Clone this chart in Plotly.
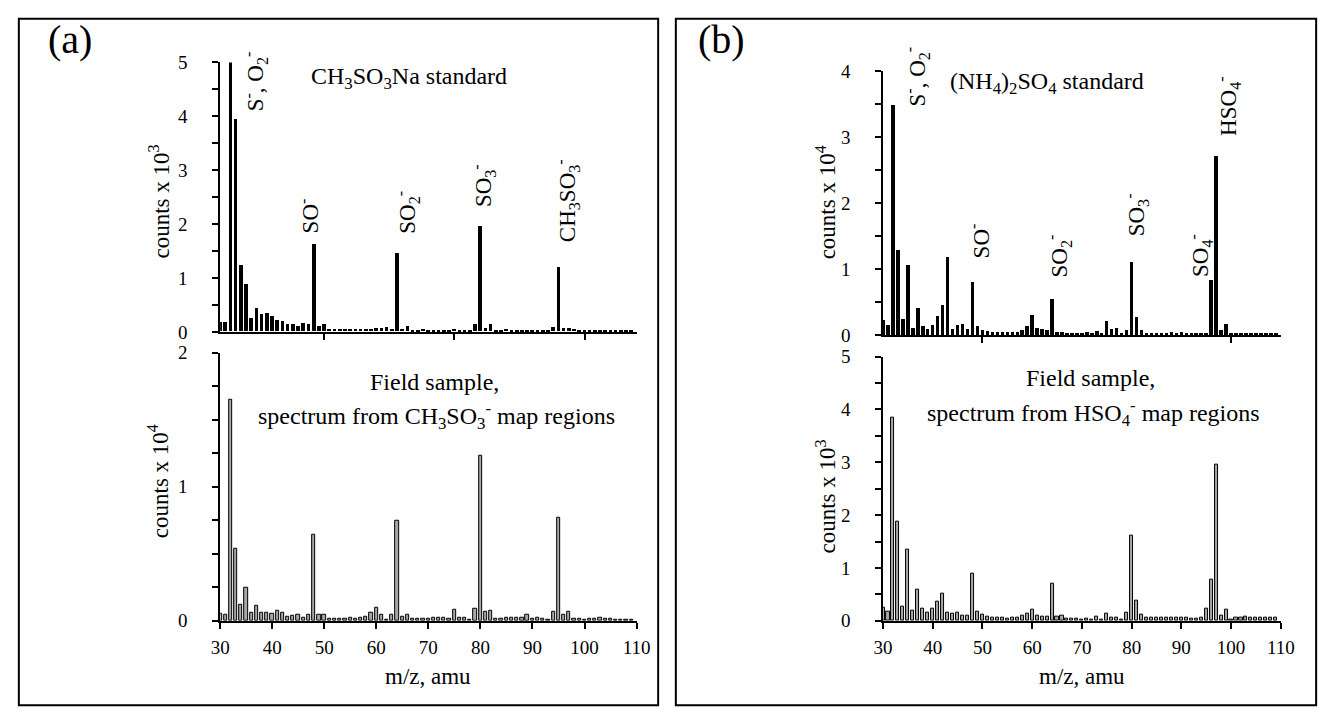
import plotly.graph_objects as go

# ---------------- data ----------------
mz = list(range(30, 110))

# (a) CH3SO3Na standard, counts x 10^3
a_standard = [
    0.18, 0.18, 5.00, 3.94, 1.24, 0.88, 0.25, 0.44, 0.32, 0.34,
    0.28, 0.21, 0.20, 0.14, 0.14, 0.11, 0.15, 0.13, 1.62, 0.10,
    0.13, 0.05, 0.05, 0.05, 0.04, 0.05, 0.05, 0.05, 0.05, 0.04,
    0.07, 0.07, 0.08, 0.05, 1.45, 0.05, 0.10, 0.03, 0.03, 0.04,
    0.03, 0.03, 0.03, 0.03, 0.02, 0.05, 0.03, 0.03, 0.03, 0.13,
    1.96, 0.07, 0.13, 0.03, 0.03, 0.04, 0.03, 0.03, 0.03, 0.03,
    0.03, 0.03, 0.03, 0.03, 0.08, 1.20, 0.07, 0.07, 0.04, 0.02,
    0.02, 0.02, 0.03, 0.02, 0.02, 0.02, 0.02, 0.02, 0.02, 0.02,
]

# (a) field sample, CH3SO3- map regions, counts x 10^4
a_field = [
    0.053, 0.046, 1.65, 0.54, 0.12, 0.25, 0.056, 0.11, 0.06, 0.063,
    0.050, 0.077, 0.056, 0.031, 0.036, 0.048, 0.022, 0.048, 0.64, 0.046,
    0.046, 0.015, 0.015, 0.015, 0.015, 0.022, 0.018, 0.022, 0.029, 0.060,
    0.094, 0.046, 0.010, 0.046, 0.745, 0.029, 0.046, 0.012, 0.012, 0.017,
    0.017, 0.022, 0.020, 0.022, 0.015, 0.082, 0.020, 0.020, 0.008, 0.087,
    1.23, 0.065, 0.077, 0.017, 0.017, 0.020, 0.020, 0.020, 0.020, 0.044,
    0.015, 0.022, 0.012, 0.010, 0.065, 0.77, 0.048, 0.070, 0.015, 0.015,
    0.010, 0.015, 0.012, 0.022, 0.015, 0.015, 0.008, 0.008, 0.006, 0.006,
]

# (b) (NH4)2SO4 standard, counts x 10^4
b_standard = [
    0.23, 0.15, 3.48, 1.29, 0.245, 1.055, 0.11, 0.41, 0.14, 0.10,
    0.16, 0.29, 0.45, 1.19, 0.10, 0.16, 0.17, 0.09, 0.81, 0.14,
    0.085, 0.06, 0.045, 0.04, 0.04, 0.04, 0.04, 0.05, 0.08, 0.14,
    0.31, 0.11, 0.09, 0.075, 0.54, 0.045, 0.045, 0.03, 0.025, 0.03,
    0.03, 0.045, 0.03, 0.06, 0.035, 0.215, 0.10, 0.11, 0.025, 0.075,
    1.11, 0.27, 0.075, 0.03, 0.03, 0.035, 0.035, 0.025, 0.04, 0.025,
    0.04, 0.025, 0.025, 0.025, 0.025, 0.025, 0.84, 2.72, 0.085, 0.17,
    0.03, 0.03, 0.035, 0.03, 0.03, 0.03, 0.035, 0.03, 0.035, 0.03,
]

# (b) field sample, HSO4- map regions, counts x 10^3
b_field = [
    0.25, 0.165, 3.85, 1.87, 0.27, 1.35, 0.20, 0.58, 0.23, 0.15,
    0.23, 0.36, 0.51, 0.15, 0.14, 0.16, 0.09, 0.10, 0.89, 0.18,
    0.12, 0.07, 0.06, 0.05, 0.05, 0.04, 0.05, 0.06, 0.09, 0.14,
    0.21, 0.10, 0.07, 0.07, 0.70, 0.08, 0.10, 0.04, 0.04, 0.04,
    0.03, 0.04, 0.03, 0.07, 0.03, 0.14, 0.06, 0.06, 0.03, 0.15,
    1.61, 0.38, 0.12, 0.05, 0.05, 0.05, 0.05, 0.06, 0.05, 0.05,
    0.05, 0.05, 0.04, 0.04, 0.05, 0.23, 0.77, 2.95, 0.10, 0.21,
    0.03, 0.06, 0.06, 0.07, 0.05, 0.06, 0.06, 0.06, 0.05, 0.05,
]

x_bottom_ticks = [30, 40, 50, 60, 70, 80, 90, 100, 110]
x_top_ticks_a = [50, 75, 100]
x_top_ticks_b = [50, 100]

# ---------------- layout helpers ----------------
W, H = 1338, 724
FONT = "Liberation Serif"


def fx(p):
    return p / W


def fy(p):
    return 1 - p / H


fig = go.Figure()

fig.add_trace(go.Bar(x=mz, y=a_standard, xaxis="x", yaxis="y", width=0.7,
                     marker=dict(color="black", line=dict(width=0))))
fig.add_trace(go.Bar(x=mz, y=a_field, xaxis="x2", yaxis="y2", width=0.62,
                     marker=dict(color="#a8a8a8", line=dict(color="black", width=1))))
fig.add_trace(go.Bar(x=mz, y=b_standard, xaxis="x3", yaxis="y3", width=0.7,
                     marker=dict(color="black", line=dict(width=0))))
fig.add_trace(go.Bar(x=mz, y=b_field, xaxis="x4", yaxis="y4", width=0.62,
                     marker=dict(color="#a8a8a8", line=dict(color="black", width=1))))

axis_common = dict(showline=True, linecolor="black", linewidth=1.5, ticks="outside",
                   ticklen=6, tickwidth=1.5, tickcolor="black", showgrid=False,
                   zeroline=False, tickfont=dict(family=FONT, size=19, color="black"))
minor_common = dict(ticks="outside", ticklen=6, tickwidth=1.5, tickcolor="black")

xa_dom = [fx(214), fx(638)]
xb_dom = [fx(889), fx(1294)]

layout = dict(
    width=W, height=H, autosize=False,
    margin=dict(l=0, r=0, t=0, b=0),
    paper_bgcolor="white", plot_bgcolor="rgba(0,0,0,0)",
    showlegend=False, bargap=0,
    font=dict(family=FONT, color="black"),
    # (a) top
    xaxis=dict(axis_common, domain=xa_dom, anchor="y", range=[30, 110],
               tickvals=x_top_ticks_a, showticklabels=False),
    yaxis=dict(axis_common, domain=[fy(331.5), fy(54)], anchor="x", range=[0, 5],
               dtick=1, tick0=0, ticklabelstandoff=21,
               minor=dict(minor_common, dtick=0.5)),
    # (a) bottom
    xaxis2=dict(axis_common, domain=xa_dom, anchor="y2", range=[30, 110],
                tickvals=x_bottom_ticks, ticklabelstandoff=3),
    yaxis2=dict(axis_common, domain=[fy(629), fy(353)], anchor="x2", range=[0, 2],
                dtick=1, tick0=0, ticklabelstandoff=21,
                minor=dict(minor_common, dtick=0.25)),
    # (b) top
    xaxis3=dict(axis_common, domain=xb_dom, anchor="y3", range=[30, 110],
                tickvals=x_top_ticks_b, showticklabels=False),
    yaxis3=dict(axis_common, domain=[fy(335), fy(63)], anchor="x3", range=[0, 4],
                dtick=1, tick0=0, ticklabelstandoff=21,
                minor=dict(minor_common, dtick=0.5)),
    # (b) bottom
    xaxis4=dict(axis_common, domain=xb_dom, anchor="y4", range=[30, 110],
                tickvals=x_bottom_ticks, ticklabelstandoff=3),
    yaxis4=dict(axis_common, domain=[fy(629), fy(357)], anchor="x4", range=[0, 5],
                dtick=1, tick0=0, ticklabelstandoff=21,
                minor=dict(minor_common, dtick=0.5)),
)
fig.update_layout(**layout)

# frames around the two panels
fig.add_shape(type="rect", xref="paper", yref="paper",
              x0=fx(9), x1=fx(660), y0=fy(716), y1=fy(9),
              line=dict(color="black", width=2))
fig.add_shape(type="rect", xref="paper", yref="paper",
              x0=fx(678), x1=fx(1330), y0=fy(716), y1=fy(9),
              line=dict(color="black", width=2))


def ann(text, x, y, size=23, angle=0):
    fig.add_annotation(text=text, x=fx(x), y=fy(y), xref="paper", yref="paper",
                       xanchor="center", yanchor="middle", showarrow=False,
                       textangle=angle, font=dict(family=FONT, size=size, color="black"))


# panel letters
ann("(a)", 61, 30, size=40)
ann("(b)", 725, 30, size=40)

# y axis titles
ann("counts x 10<sup>3</sup>", 152, 197, angle=-90)
ann("counts x 10<sup>4</sup>", 152, 485, angle=-90)
ann("counts x 10<sup>4</sup>", 831, 198, angle=-90)
ann("counts x 10<sup>3</sup>", 831, 501, angle=-90)

# x axis titles
ann("m/z, amu", 426, 686)
ann("m/z, amu", 1092, 686)

# panel (a) labels
ann("CH<sub>3</sub>SO<sub>3</sub>Na standard", 406, 70, size=24)
ann("S<sup>-</sup>, O<sub>2</sub><sup>-</sup>", 250, 74, angle=-90)
ann("SO<sup>-</sup>", 305, 212, angle=-90)
ann("SO<sub>2</sub><sup>-</sup>", 405, 208, angle=-90)
ann("SO<sub>3</sub><sup>-</sup>", 482, 181, angle=-90)
ann("CH<sub>3</sub>SO<sub>3</sub><sup>-</sup>", 567, 196, angle=-90)
ann("Field sample,", 432, 383, size=24)
ann("spectrum from CH<sub>3</sub>SO<sub>3</sub><sup>-</sup> map regions", 434, 418, size=24)

# panel (b) labels
ann("(NH<sub>4</sub>)<sub>2</sub>SO<sub>4</sub> standard", 1056, 75, size=24)
ann("S<sup>-</sup>, O<sub>2</sub><sup>-</sup>", 923, 68, angle=-90)
ann("SO<sup>-</sup>", 987, 238, angle=-90)
ann("SO<sub>2</sub><sup>-</sup>", 1068, 253, angle=-90)
ann("SO<sub>3</sub><sup>-</sup>", 1147, 211, angle=-90)
ann("SO<sub>4</sub><sup>-</sup>", 1212, 253, angle=-90)
ann("HSO<sub>4</sub><sup>-</sup>", 1240, 99, angle=-90)
ann("Field sample,", 1100, 379, size=24)
ann("spectrum from HSO<sub>4</sub><sup>-</sup> map regions", 1103, 415, size=24)

fig.write_html("out.html", config={"displayModeBar": False},
               post_script="document.body.style.margin='0';document.body.style.overflow='hidden';")
